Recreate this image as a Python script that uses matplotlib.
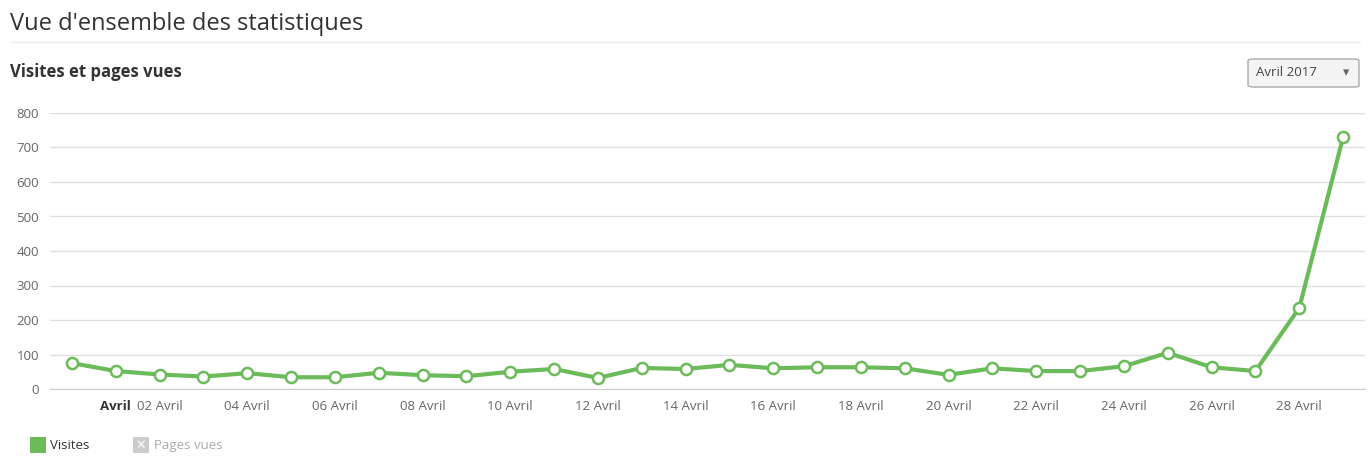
import matplotlib
matplotlib.use("Agg")
import matplotlib.pyplot as plt
from matplotlib.patches import FancyBboxPatch, Rectangle

visites = [75, 52, 42, 36, 46, 34, 34, 47, 40, 37, 50, 58, 32, 61, 58, 70, 60, 63, 63, 60,
           41, 60, 52, 52, 66, 105, 63, 52, 235, 730]
tick_idx = [1, 2, 4, 6, 8, 10, 12, 14, 16, 18, 20, 22, 24, 26, 28]
tick_labels = ["Avril", "02 Avril", "04 Avril", "06 Avril", "08 Avril", "10 Avril", "12 Avril",
               "14 Avril", "16 Avril", "18 Avril", "20 Avril", "22 Avril", "24 Avril",
               "26 Avril", "28 Avril"]
yticks = [0, 100, 200, 300, 400, 500, 600, 700, 800]

W, H = 1369, 465
fig = plt.figure(figsize=(W/100, H/100), dpi=100)
plt.rcParams['font.family'] = ['Open Sans', 'DejaVu Sans']

ax = fig.add_axes([50/W, 1-389/H, (1365-50)/W, (389-113)/H])
green = "#6cbb5a"
x = list(range(len(visites)))
ax.plot(x, visites, color=green, lw=3, marker='o', ms=8, mfc='white', mec=green, mew=1.8, zorder=3)
ax.set_ylim(0, 800)
ax.set_xlim(-0.5, len(visites) - 0.5)
ax.set_yticks(yticks)
ax.set_yticklabels([str(v) for v in yticks], color="#666666", fontsize=9.5)
ax.set_xticks(tick_idx)
ax.set_xticklabels(tick_labels, color="#666666", fontsize=9.5)
ax.get_xticklabels()[0].set_fontweight('bold')
ax.get_xticklabels()[0].set_color('#333333')
ax.tick_params(length=0, pad=8)
ax.grid(axis='y', color="#e0e0e0", lw=1)
ax.set_axisbelow(True)
for s in ['top', 'right', 'left']:
    ax.spines[s].set_visible(False)
ax.spines['bottom'].set_color("#cccccc")

fig.text(10/W, 1-24/H, "Vue d'ensemble des statistiques", fontsize=17, color="#333333", va='center')
fig.add_artist(plt.Line2D([10/W, 1360/W], [1-42/H, 1-42/H], color="#eeeeee", lw=1))
fig.text(10/W, 1-72/H, "Visites et pages vues", fontsize=12, fontweight='bold', color="#333333", va='center')

fig.add_artist(FancyBboxPatch((1248/W, 1-87/H), 111/W, 28/H, boxstyle="round,pad=0,rounding_size=0.004",
                              transform=fig.transFigure, fc="#f4f4f4", ec="#aaaaaa", lw=1))
fig.text(1256/W, 1-73/H, "Avril 2017", fontsize=9.5, color="#444444", va='center')
fig.text(1346/W, 1-73/H, "▾", fontsize=9, color="#666666", va='center', ha='center')

fig.add_artist(Rectangle((30/W, 1-453/H), 16/W, 16/H, transform=fig.transFigure, fc=green, ec='none'))
fig.text(50/W, 1-445/H, "Visites", fontsize=9.5, color="#333333", va='center')
fig.add_artist(Rectangle((133/W, 1-453/H), 16/W, 16/H, transform=fig.transFigure, fc="#cccccc", ec='none'))
fig.text(141/W, 1-445/H, "✕", fontsize=9, color="white", va='center', ha='center', fontweight='bold',
         family=['DejaVu Sans'])
fig.text(154/W, 1-445/H, "Pages vues", fontsize=9.5, color="#aaaaaa", va='center')

fig.savefig("out.png", dpi=100, facecolor='white')
